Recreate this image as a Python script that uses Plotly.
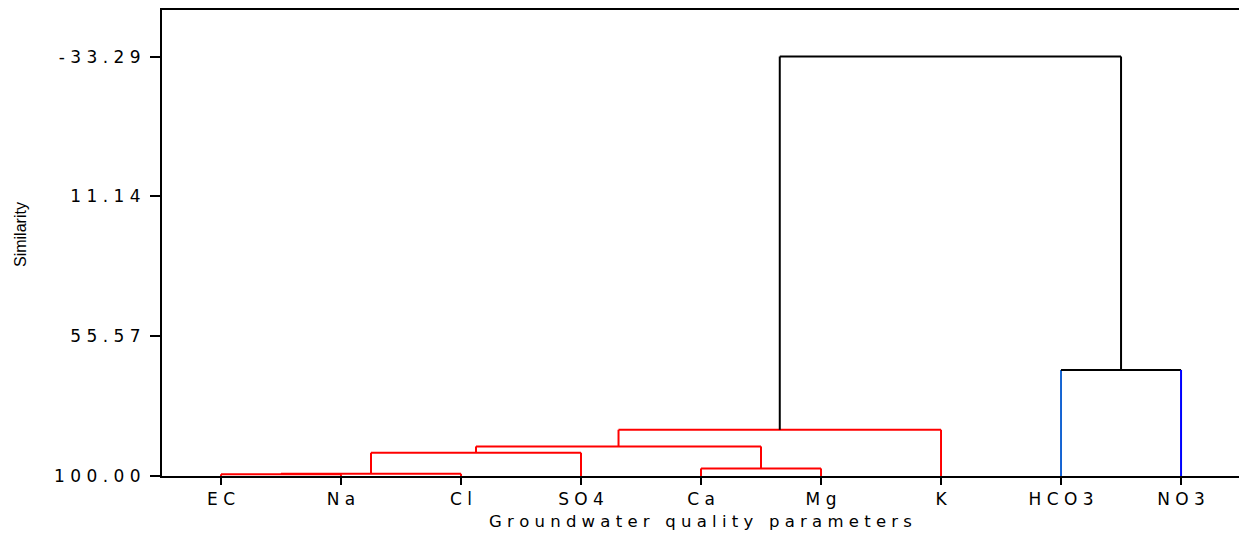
import plotly.graph_objects as go

# ---- data ----
leaves = ["EC", "Na", "Cl", "SO4", "Ca", "Mg", "K", "HCO3", "NO3"]
# merges: (left cluster, right cluster, similarity level); clusters referenced by
# leaf name or by "m<i>" for earlier merge i
merge_left = ["EC", "m0", "m1", "Ca", "m2", "m4", "HCO3", "m5"]
merge_right = ["Na", "Cl", "SO4", "Mg", "m3", "K", "NO3", "m6"]
merge_level = [99.46, 99.30, 92.6, 97.6, 90.6, 85.3, 66.3, -33.29]
y_tick_vals = [-33.29, 11.14, 55.57, 100.00]
y_tick_text = ["-33.29", "11.14", "55.57", "100.00"]
x_title = "Groundwater quality parameters"
y_title = "Similarity"

# colours for each merge: (left leg, horizontal, right leg)
RED = "#ff0000"
merge_colors = [
    (RED, RED, RED), (RED, RED, RED), (RED, RED, RED), (RED, RED, RED),
    (RED, RED, RED), (RED, RED, RED),
    ("#1464d2", "#000000", "#0000ff"),
    ("#000000", "#000000", "#000000"),
]


def spaced(s):
    return " ".join(list(s))


pos = {name: (i, 100.0) for i, name in enumerate(leaves)}
fig = go.Figure()
for i, (a, b, h) in enumerate(zip(merge_left, merge_right, merge_level)):
    xa, ya = pos[a]
    xb, yb = pos[b]
    ca, ch, cb = merge_colors[i]
    for xs, ys, c in (([xa, xa], [ya, h], ca), ([xa, xb], [h, h], ch), ([xb, xb], [yb, h], cb)):
        fig.add_trace(go.Scatter(x=xs, y=ys, mode="lines",
                                 line=dict(color=c, width=2),
                                 hoverinfo="skip", showlegend=False))
    pos["m%d" % i] = ((xa + xb) / 2.0, h)

tick_font = dict(family="DejaVu Sans", size=17, color="#000000")
fig.update_layout(
    width=1239, height=539,
    margin=dict(l=162, r=0, t=10, b=63),
    plot_bgcolor="white", paper_bgcolor="white",
    showlegend=False,
    xaxis=dict(
        range=[-0.4917, 8.483],
        tickmode="array",
        tickvals=list(range(len(leaves))),
        ticktext=[spaced(s) for s in leaves],
        tickfont=tick_font,
        ticks="outside", ticklen=7, tickwidth=2, tickcolor="black",
        showline=True, linecolor="black", linewidth=2, mirror=True,
        showgrid=False, zeroline=False,
        title=dict(text=spaced(x_title), font=dict(family="DejaVu Sans", size=16.5, color="black"),
                   standoff=7),
    ),
    yaxis=dict(
        range=[100, -48.1],
        tickmode="array",
        tickvals=y_tick_vals,
        ticktext=[spaced(s) for s in y_tick_text],
        tickfont=tick_font,
        ticks="outside", ticklen=10, tickwidth=2, tickcolor="black",
        ticklabelstandoff=6,
        showline=True, linecolor="black", linewidth=2, mirror=False,
        showgrid=False, zeroline=False,
    ),
    annotations=[dict(
        text=y_title, textangle=-90,
        xref="paper", yref="paper",
        x=(20 - 162) / 1077.0, y=(476 - 235) / 466.0,
        xanchor="center", yanchor="middle", showarrow=False,
        font=dict(family="Liberation Sans", size=16, color="black"),
    )],
)

fig.write_html("out.html")
